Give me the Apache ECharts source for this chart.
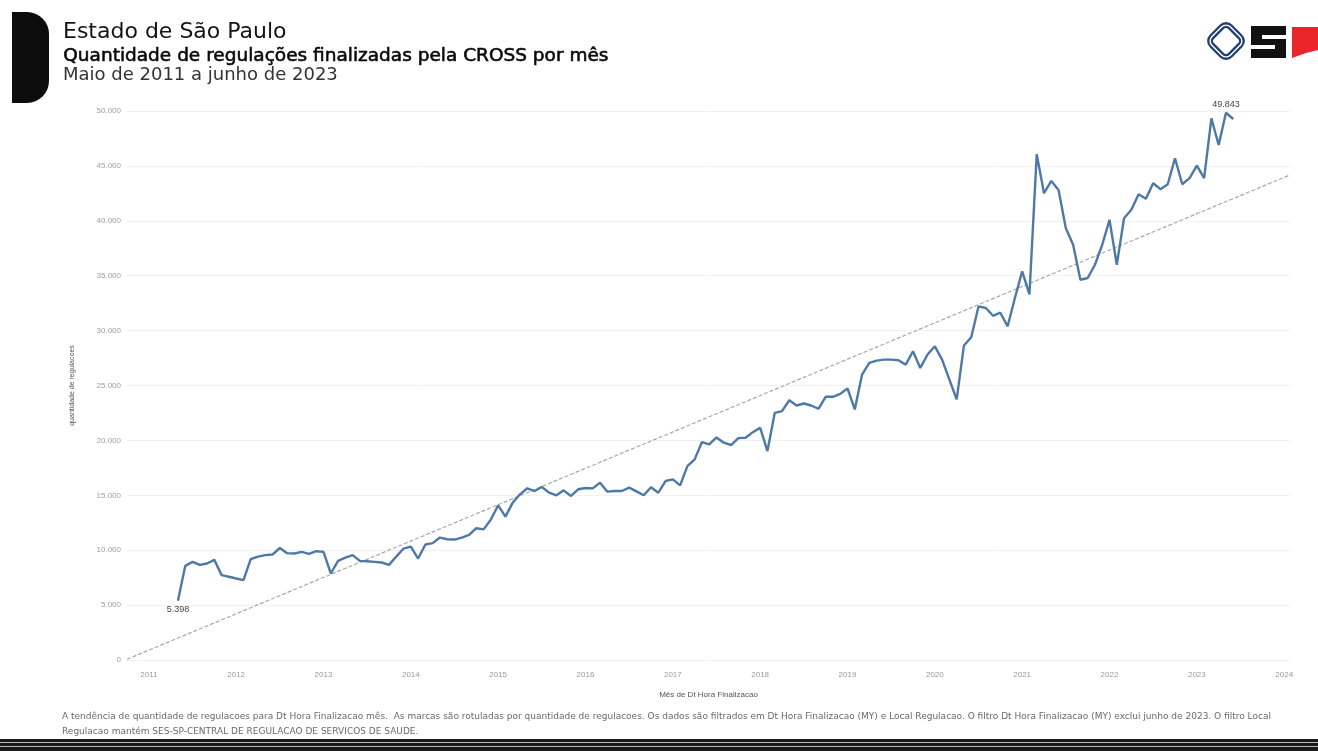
<!DOCTYPE html>
<html><head><meta charset="utf-8">
<script src="https://cdn.jsdelivr.net/npm/echarts@6/dist/echarts.min.js"></script>
<style>html,body{margin:0;padding:0;background:#fff}#c{width:1318px;height:751px}</style>
</head><body><div id="c"></div>
<script>
// ---- DATA (monthly finalized regulations, May 2011 – Jun 2023) ----
const firstYear = 2011;
const firstMonth = 5; // May
const v2011 = [5398, 8570, 8940, 8660, 8790, 9120, 7730, 7580];
const v2012 = [7420, 7270, 9180, 9420, 9550, 9610, 10200, 9730, 9700, 9850, 9660, 9910];
const v2013 = [9850, 7880, 9030, 9330, 9550, 9030, 9000, 8940, 8880, 8660, 9420, 10150];
const v2014 = [10330, 9240, 10520, 10640, 11150, 11000, 10970, 11150, 11390, 12000, 11900, 12800];
const v2015 = [14090, 13060, 14330, 15090, 15640, 15390, 15750, 15240, 15000, 15450, 14940, 15550];
const v2016 = [15660, 15630, 16150, 15330, 15390, 15390, 15700, 15360, 15000, 15730, 15240, 16300];
const v2017 = [16450, 15900, 17660, 18270, 19850, 19640, 20270, 19790, 19580, 20210, 20240, 20750];
const v2018 = [21150, 19030, 22500, 22660, 23660, 23180, 23360, 23180, 22880, 23970, 23970, 24240];
const v2019 = [24730, 22820, 26000, 27060, 27270, 27360, 27360, 27300, 26900, 28120, 26600, 27820];
const v2020 = [28570, 27360, 25540, 23730, 28650, 29400, 32200, 32060, 31350, 31630, 30390, 32970];
const v2021 = [35390, 33300, 46060, 42510, 43630, 42810, 39330, 37820, 34630, 34790, 36000, 37820];
const v2022 = [40090, 36000, 40240, 41000, 42420, 42000, 43420, 42880, 43330, 45700, 43330, 43880];
const v2023 = [45020, 43880, 49330, 46900, 49843, 49270];
const yearLabels = ['2011','2012','2013','2014','2015','2016','2017','2018','2019','2020','2021','2022','2023','2024'];

const titleLine1 = 'Estado de São Paulo';
const titleLine2 = 'Quantidade de regulações finalizadas pela CROSS por mês';
const titleLine3 = 'Maio de 2011 a junho de 2023';
const yAxisTitle = 'quantidade de regulacoes';
const xAxisTitle = 'Mês de Dt Hora Finalizacao';
const footer1 = 'A tendência de quantidade de regulacoes para Dt Hora Finalizacao mês.  As marcas são rotuladas por quantidade de regulacoes. Os dados são filtrados em Dt Hora Finalizacao (MY) e Local Regulacao. O filtro Dt Hora Finalizacao (MY) exclui junho de 2023. O filtro Local';
const footer2 = 'Regulacao mantém SES-SP-CENTRAL DE REGULACAO DE SERVICOS DE SAUDE.';

// ---- BUILD ----
const values = [].concat(v2011, v2012, v2013, v2014, v2015, v2016, v2017, v2018, v2019, v2020, v2021, v2022, v2023);
const mIndex = values.map((_, i) => (firstMonth - 1) + i); // months since Jan 2011
const fmt = v => String(Math.round(v)).replace(/\B(?=(\d{3})+(?!\d))/g, '.');
const maxV = Math.max.apply(null, values);

const lineData = values.map((v, i) => {
  const item = { value: [mIndex[i], v] };
  if (i === 0) item.label = { show: true, position: 'bottom', distance: 4 };
  else if (v === maxV) item.label = { show: true, position: 'top', distance: 4 };
  return item;
});

// least-squares linear trend
const n = values.length;
const mx = mIndex.reduce((a, b) => a + b, 0) / n;
const my = values.reduce((a, b) => a + b, 0) / n;
let sxy = 0, sxx = 0;
for (let i = 0; i < n; i++) { sxy += (mIndex[i] - mx) * (values[i] - my); sxx += (mIndex[i] - mx) ** 2; }
const slope = sxy / sxx, icpt = my - slope * mx;
const xMin = -3, xMax = 156.8;
const trendData = [[xMin, icpt + slope * xMin], [xMax, icpt + slope * xMax]];

const tickPos = yearLabels.map(y => (Number(y) - firstYear) * 12);

const chart = echarts.init(document.getElementById('c'), null, { renderer: 'canvas' });
chart.setOption({
  backgroundColor: '#ffffff',
  animation: false,
  grid: { left: 127, right: 28, top: 111, bottom: 91, containLabel: false },
  xAxis: {
    type: 'value', min: xMin, max: xMax,
    name: xAxisTitle, nameLocation: 'middle', nameGap: 31,
    nameTextStyle: { fontFamily: 'Liberation Sans', fontSize: 8, color: '#555' },
    axisLine: { show: false }, axisTick: { show: false }, splitLine: { show: false },
    axisLabel: {
      customValues: tickPos,
      formatter: v => String(firstYear + Math.round(v / 12)),
      fontFamily: 'Liberation Sans', fontSize: 8, color: '#9a9a9a', margin: 11
    }
  },
  yAxis: {
    type: 'value', min: 0, max: 50000, interval: 5000,
    name: yAxisTitle, nameLocation: 'middle', nameGap: 51, nameRotate: 90,
    nameTextStyle: { fontFamily: 'Liberation Sans', fontSize: 7, color: '#555' },
    axisLine: { show: false }, axisTick: { show: false },
    splitLine: { show: true, lineStyle: { color: '#f1f1f1', width: 1 } },
    axisLabel: { formatter: v => fmt(v), fontFamily: 'Liberation Sans', fontSize: 8, color: '#a0a0a0', margin: 6 }
  },
  series: [
    {
      type: 'line', data: trendData, silent: true, symbol: 'none', z: 1,
      lineStyle: { color: '#a8a8a8', width: 1.2, type: [4, 2] }
    },
    {
      type: 'line', data: lineData, z: 2,
      symbol: 'circle', symbolSize: 0.1, showSymbol: true, showAllSymbol: true,
      itemStyle: { color: '#4e79a7' },
      lineStyle: { color: '#4e79a7', width: 2.4 },
      label: { show: false, formatter: p => fmt(p.value[1]), fontFamily: 'Liberation Sans', fontSize: 9, color: '#444' }
    }
  ],
  graphic: [
    // left black tab
    { type: 'rect', shape: { x: 12, y: 12, width: 37, height: 91, r: [0, 22, 22, 0] }, style: { fill: '#0d0d0d' } },
    { type: 'text', left: 63, top: 21, style: { text: titleLine1, font: '22px "DejaVu Sans"', fill: '#141414' } },
    { type: 'text', left: 63, top: 46, style: { text: titleLine2, font: '18.5px "DejaVu Sans"', fill: '#0a0a0a', stroke: '#0a0a0a', lineWidth: 0.6 } },
    { type: 'text', left: 63, top: 66, style: { text: titleLine3, font: '18px "DejaVu Sans"', fill: '#333' } },
    // logo: blue interlocked square
    { type: 'rect', x: 1226, y: 41, rotation: Math.PI / 4, shape: { x: -13, y: -13, width: 26, height: 26, r: 6 }, style: { fill: 'none', stroke: '#22406f', lineWidth: 6 } },
    { type: 'rect', x: 1226, y: 41, rotation: Math.PI / 4, shape: { x: -13, y: -13, width: 26, height: 26, r: 6 }, style: { fill: 'none', stroke: '#ffffff', lineWidth: 1.4 } },
    // logo: black S block
    { type: 'rect', shape: { x: 1251, y: 26, width: 35, height: 32 }, style: { fill: '#111' } },
    { type: 'rect', shape: { x: 1262, y: 35, width: 24, height: 4 }, style: { fill: '#fff' } },
    { type: 'rect', shape: { x: 1251, y: 45, width: 24, height: 4 }, style: { fill: '#fff' } },
    // logo: red flag
    { type: 'polygon', shape: { points: [[1292, 27], [1318, 27], [1318, 50], [1306, 53], [1292, 58]] }, style: { fill: '#e8262a' } },
    // footer note
    { type: 'text', left: 62, top: 712, style: { text: footer1, font: '9px "DejaVu Sans"', fill: '#6a6a6a' } },
    { type: 'text', left: 62, top: 727, style: { text: footer2, font: '9px "DejaVu Sans"', fill: '#6a6a6a' } },
    // bottom stripes
    { type: 'rect', shape: { x: 0, y: 739, width: 1318, height: 12 }, style: { fill: '#1a1a1a' } },
    { type: 'rect', shape: { x: 0, y: 742, width: 1318, height: 1 }, style: { fill: '#b8b8b8' } },
    { type: 'rect', shape: { x: 0, y: 746, width: 1318, height: 1 }, style: { fill: '#b8b8b8' } }
  ]
});
</script>
</body></html>
